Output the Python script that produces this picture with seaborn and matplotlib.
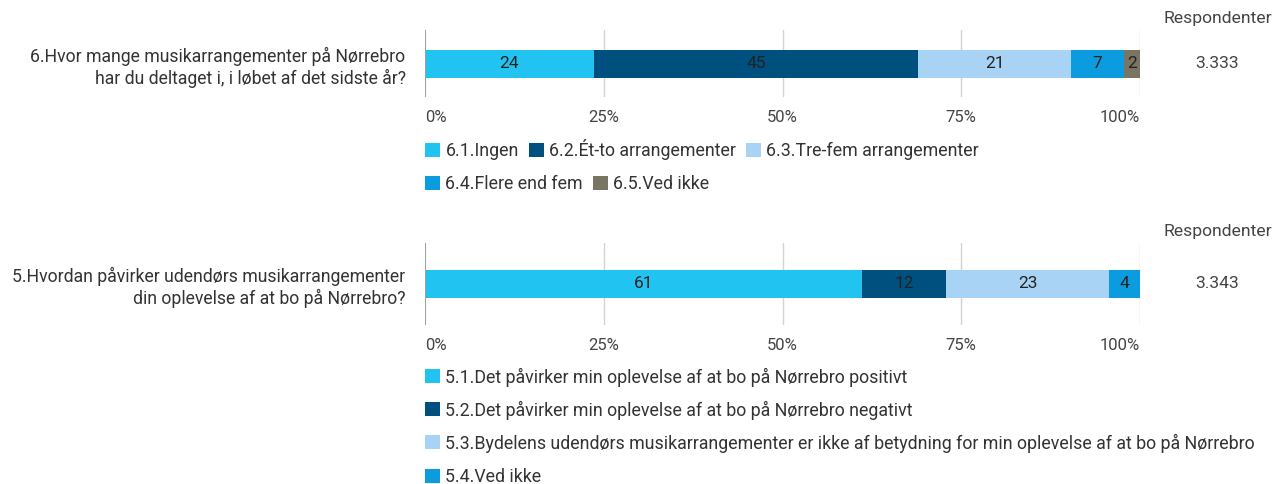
import matplotlib.pyplot as plt
import numpy as np
import seaborn as sns
from matplotlib.patches import Patch

sns.set_theme(style="white")
plt.rcParams['font.family'] = ['Roboto', 'DejaVu Sans']
plt.rcParams['text.color'] = '#333333'

# --- data ---
q6_label = "6.Hvor mange musikarrangementer på Nørrebro\nhar du deltaget i, i løbet af det sidste år?"
q6_cats = ["6.1.Ingen", "6.2.Ét-to arrangementer", "6.3.Tre-fem arrangementer",
           "6.4.Flere end fem", "6.5.Ved ikke"]
q6_vals = [23.6, 45.4, 21.4, 7.3, 2.3]
q6_colors = ["#21C3F1", "#00507F", "#A9D3F4", "#0A9CDE", "#7A7563"]
q6_resp = "3.333"

q5_label = "5.Hvordan påvirker udendørs musikarrangementer\ndin oplevelse af at bo på Nørrebro?"
q5_cats = ["5.1.Det påvirker min oplevelse af at bo på Nørrebro positivt",
           "5.2.Det påvirker min oplevelse af at bo på Nørrebro negativt",
           "5.3.Bydelens udendørs musikarrangementer er ikke af betydning for min oplevelse af at bo på Nørrebro",
           "5.4.Ved ikke"]
q5_vals = [61.1, 11.8, 22.8, 4.3]
q5_colors = ["#21C3F1", "#00507F", "#A9D3F4", "#0A9CDE"]
q5_resp = "3.343"

ticks = [0, 25, 50, 75, 100]
tick_labels = ["0%", "25%", "50%", "75%", "100%"]

W, H = 1274, 484
fig = plt.figure(figsize=(W / 100, H / 100), dpi=100)


def fx(px):
    return px / W


def fy(py):
    return 1 - py / H


def stacked(ax, question, vals, colors, bar_h):
    cum = np.cumsum(vals)
    # draw cumulative bars from longest to shortest so they stack visually
    for i in range(len(vals) - 1, -1, -1):
        sns.barplot(x=[cum[i]], y=[question], color=colors[i], saturation=1,
                    width=bar_h, orient="h", ax=ax, linewidth=0)
    for i, v in enumerate(vals):
        ax.text(cum[i] - v / 2, 0, f"{round(v)}", ha="center", va="center",
                fontsize=12.5, color="#222222")
    ax.set_xlim(0, 100)
    ax.set_ylim(0.5, -0.5)
    ax.set_xlabel("")
    ax.set_ylabel("")
    for s in ax.spines.values():
        s.set_visible(False)
    for t in ticks[1:]:
        ax.axvline(t, color="#D3D3D3", lw=1, zorder=0)
    ax.axvline(0, color="#A0A0A0", lw=1.5, zorder=3)
    ax.set_xticks(ticks)
    ax.set_xticklabels(tick_labels)
    ax.tick_params(axis="x", length=0, pad=9, labelsize=12, labelcolor="#444444")
    ax.tick_params(axis="y", length=0, pad=14, labelsize=12.7, labelcolor="#333333")
    xl = ax.get_xticklabels()
    xl[0].set_ha("left")
    xl[-1].set_ha("right")


def legend_row(cats, colors, idx, ypx):
    handles = [Patch(facecolor=colors[i], edgecolor="none", label=cats[i]) for i in idx]
    fig.legend(handles=handles, loc="center left", bbox_to_anchor=(fx(425), fy(ypx)),
               ncol=len(idx), frameon=False, fontsize=12.8, handlelength=0.85,
               handleheight=0.85, handletextpad=0.3, columnspacing=0.55,
               borderpad=0, borderaxespad=0)


ax1 = fig.add_axes([fx(425), fy(97), fx(1140) - fx(425), (97 - 30) / H])
stacked(ax1, q6_label, q6_vals, q6_colors, 28 / 67)
legend_row(q6_cats, q6_colors, [0, 1, 2], 150)
legend_row(q6_cats, q6_colors, [3, 4], 184)

ax2 = fig.add_axes([fx(425), fy(325), fx(1140) - fx(425), (325 - 243) / H])
stacked(ax2, q5_label, q5_vals, q5_colors, 28 / 82)
for k, ypx in enumerate([377, 410, 443, 477]):
    legend_row(q5_cats, q5_colors, [k], ypx)

for yh, yv, r in [(18, 64, q6_resp), (232, 284, q5_resp)]:
    fig.text(fx(1272), fy(yh), "Respondenter", ha="right", va="center", fontsize=12.6, color="#444444")
    fig.text(fx(1217), fy(yv), r, ha="center", va="center", fontsize=12.6, color="#444444")

fig.savefig("out.png", dpi=100, facecolor="white")
